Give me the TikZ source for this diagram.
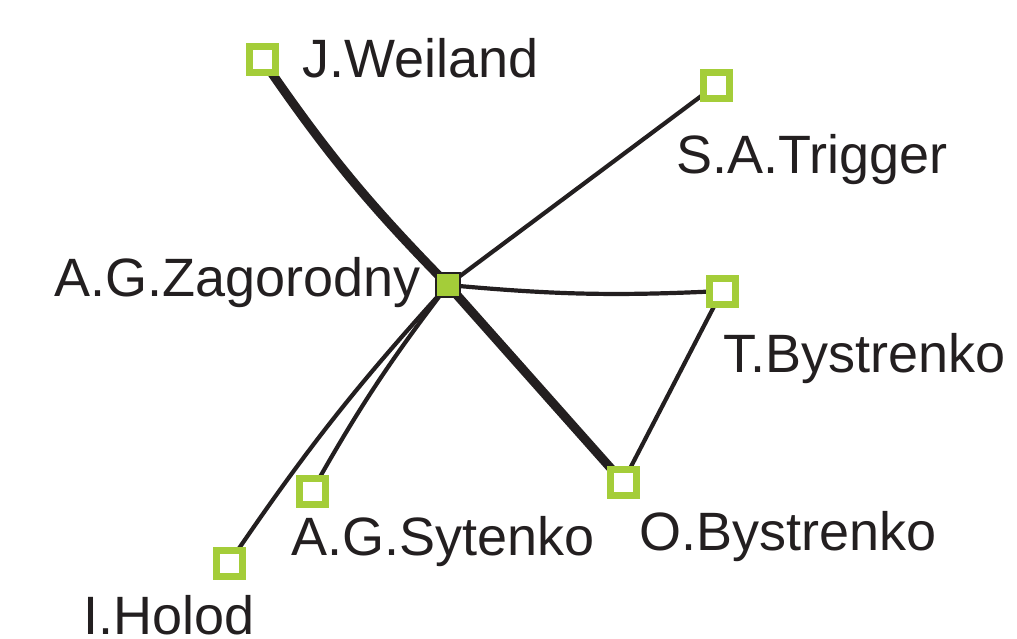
\documentclass[tikz,border=0pt]{standalone}
\usepackage{fontspec}
\setmainfont{Liberation Sans}
\usetikzlibrary{backgrounds}
\definecolor{lgreen}{HTML}{A4CD39}
\definecolor{ink}{HTML}{231F20}
\begin{document}
\begin{tikzpicture}[x=1pt,y=-1pt,
  auth/.style={draw=lgreen,fill=white,line width=7pt,minimum size=26pt,inner sep=0pt,rectangle},
  hub/.style={draw=ink,fill=lgreen,line width=1.4pt,minimum size=24pt,inner sep=0pt,rectangle},
  lbl/.style={anchor=base west,inner sep=0pt,font=\fontsize{54}{60}\selectfont,text=ink},
  thick link/.style={draw=ink,line width=9pt},
  thin link/.style={draw=ink,line width=4.2pt}]
\useasboundingbox (0,0) rectangle (1017,638);
\node[hub] (Z) at (448,285) {};
\node[auth] (W) at (262,59) {};
\node[auth] (S) at (716,85) {};
\node[auth] (T) at (722,291) {};
\node[auth] (O) at (623,482) {};
\node[auth] (Y) at (312,491) {};
\node[auth] (H) at (229,563) {};
\node[lbl] (lW) at (302,77) {J.Weiland};
\node[lbl] (lS) at (676,173) {S.A.Trigger};
\node[lbl] (lZ) at (54,296) {A.G.Zagorodny};
\node[lbl] (lT) at (723,372) {T.Bystrenko};
\node[lbl] (lO) at (639,550) {O.Bystrenko};
\node[lbl] (lY) at (291,555) {A.G.Sytenko};
\node[lbl] (lH) at (83,634) {I.Holod};
\begin{scope}[on background layer]
\draw[thick link] (W.center) to[bend right=5] (Z.center);
\draw[thick link] (Z.center) -- (O.center);
\draw[thin link] (Z.center) -- (S.center);
\draw[thin link] (Z.center) to[bend right=4] (T.center);
\draw[thin link] (T.center) -- (O.center);
\draw[thin link] (Z.center) to[bend right=4] (Y.center);
\draw[thin link] (Z.center) to[bend right=4] (H.center);
\end{scope}
\end{tikzpicture}
\end{document}
